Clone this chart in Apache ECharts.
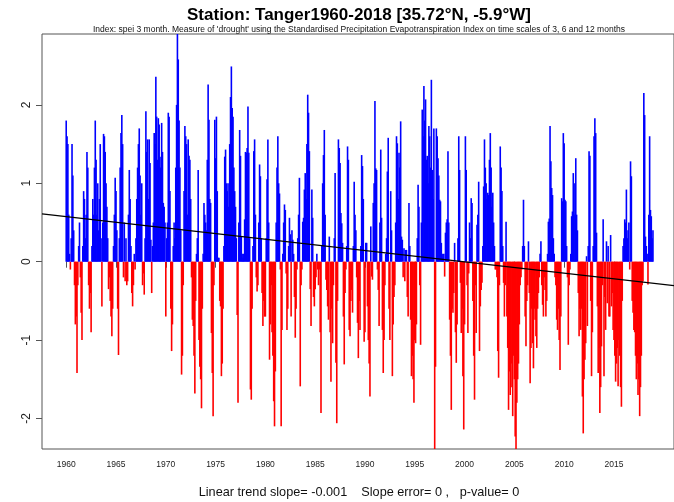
<!DOCTYPE html>
<html>
<head>
<meta charset="utf-8">
<script src="https://cdn.jsdelivr.net/npm/echarts@6/dist/echarts.min.js"></script>
<style>
  html, body { margin: 0; padding: 0; background: #fff; }
  #graph { width: 674px; height: 502px; }
</style>
</head>
<body>
<div id="graph"></div>
<script>
// monthly SPEI-3 values, Tanger (one row = one year, Jan..Dec)
const spei1960s = [
  1.8, 1.6, 1.5, 0.6, 0.1, -0.1, 0.3, 1.5, 1.1, 0.4, -0.3, -0.8,
  -0.7, -1.42, -0.3, 0.2, 0.5, -0.2, -0.65, -1.0, 0.2, 0.9, 0.8, 0.3,
  0.6, 1.4, 1.2, -0.3, -0.6, -0.4, -0.9, 0.2, 0.8, 0.6, 1.2, 1.8,
  1.3, 0.6, 1.0, 0.4, 0.8, 1.5, 0.3, -0.57, 0.5, 1.63, 1.6, 1.4,
  1.0, 0.7, 0.3, -0.35, -0.2, -0.5, -0.7, -0.95, -0.6, 0.2, 0.6, 1.07,
  0.9, 0.4, -0.6, -1.19, 0.3, 1.2, 1.64, 1.87, 1.5, -0.2, 0.5, -0.25,
  0.3, -0.3, -0.25, 0.6, 1.17, 0.8, 0.2, -0.4, -0.57, -0.3, 0.1, -0.1,
  0.3, 0.8, 1.2, 1.5, 1.7, 1.1, 0.6, 1.0, -0.3, -0.15, -0.42, 0.3,
  1.92, 1.4, 1.56, 0.8, 1.56, 1.26, 0.28, -0.4, 0.2, 0.5, 1.64, 1.5,
  2.36, 1.85, 1.3, 1.83, 1.75, 1.34, 1.2, 1.77, 1.4, 0.75, 0.7, 0.5
];
const spei1970s = [
  -0.7, 0.3, 0.5, 1.9, 1.85, 0.9, -0.6, -1.14, -0.8, 0.2, 0.5, 0.3,
  1.2, 2.0, 2.95, 2.58, 1.8, 1.2, 0.4, -1.44, -1.2, -0.3, 0.9, 1.73,
  1.6, 1.5, 0.6, 1.56, 1.35, 1.3, 0.8, -0.2, -0.74, -0.82, -1.2, -1.68,
  -0.5, 0.1, 0.3, 1.17, -1.0, -1.34, -1.5, -1.87, -0.6, 0.1, 0.75, 0.6,
  0.5, 0.4, 1.3, 2.26, 1.81, 0.8, 0.75, -0.91, -1.42, -1.97, -0.3, 1.81,
  1.32, 1.85, 0.9, 0.05, 0.05, -0.5, -0.57, -1.46, -1.3, -0.6, 0.2, 1.34,
  1.43, 1.0, 0.9, 1.0, 0.7, 1.5, 2.1, 2.49, 1.96, 1.85, 1.2, 0.9,
  0.7, 0.3, -0.68, -1.8, 0.5, 1.68, 1.35, 0.32, 0.1, 0.05, 0.1, 0.54,
  1.4, 1.39, 1.45, 1.98, 1.39, 0.3, -1.63, -1.76, -0.6, 0.2, 1.41, 1.56,
  0.6, -0.2, -0.38, -0.3, 0.5, 1.24, 1.09, 0.3, -0.4, -0.82, -0.5, -0.7
];
const spei1980s = [
  -0.7, 0.3, 1.05, 1.56, 0.5, -1.25, -0.8, -0.3, -0.9, -1.2, -1.78, -2.1,
  -1.4, 0.5, 1.2, 1.6, 1.0, 0.87, -0.1, -2.1, -0.87, 0.1, 0.5, 0.73,
  0.66, -0.15, -0.87, -0.6, 0.2, 0.56, 0.35, -0.7, 0.4, 0.28, 0.1, -0.45,
  -0.97, -0.6, -0.1, 0.3, 0.6, 1.07, -1.59, -0.3, -0.1, 0.51, 0.56, 0.92,
  1.13, 0.8, 1.5, 2.13, 1.9, 1.41, -0.35, -0.82, 0.92, 0.56, -0.45, -0.57,
  -0.35, -0.2, 0.1, -0.1, -0.3, -0.1, -0.9, -1.93, 0.2, 1.0, 1.36, 1.68,
  0.6, -0.23, -0.36, -0.57, -0.74, 0.32, -0.9, -1.53, -0.6, -1.04, -0.3, 0.3,
  1.13, -1.29, -2.06, -0.5, 1.56, 1.45, 1.26, 0.62, 0.49, 0.24, -0.7, -1.31,
  -0.4, -0.1, 0.2, 1.47, 1.3, -0.87, -0.95, -0.5, -0.36, -0.65, 0.2, 1.02,
  0.6, 0.4, -0.2, -0.78, -1.23, -0.5, -0.87, 0.2, 1.36, 1.22, 0.8, -1.02
];
const spei1990s = [
  -0.9, 0.24, 0.24, -0.57, -1.0, -1.3, -1.72, 0.45, -0.19, -0.23, 0.75, 1.0,
  2.05, 1.19, 1.17, -0.1, -0.36, -0.82, 0.5, 1.43, 0.56, -0.87, -1.42, -1.0,
  -0.3, 0.1, 0.3, 1.15, 1.58, -0.6, -1.0, 0.9, 0.4, -1.46, -0.8, -0.45,
  -0.3, 0.5, 1.6, 1.51, 0.8, 1.39, 1.2, 1.79, 0.32, 0.28, -0.2, 0.17,
  -0.25, 0.15, 0.15, -0.45, -0.7, 0.75, 0.2, -0.74, -1.46, -1.2, -1.5, -1.8,
  -1.0, -1.04, -0.8, 0.3, 0.98, 0.7, -0.3, -1.06, 0.5, 1.94, 1.6, 2.24,
  1.8, 2.07, 1.3, 1.35, 1.0, 1.73, 1.6, 1.2, 2.32, 1.17, 0.8, 1.7,
  -2.5, -1.34, 1.7, 1.6, 1.32, 1.1, 0.79, 0.77, 0.24, 0.1, 0.05, 0.1,
  -0.19, 0.37, 0.5, 0.54, 1.41, 0.5, -0.74, -1.2, -1.89, -0.6, -0.65, -0.4,
  0.24, -0.9, -1.29, -0.8, 0.3, 1.6, 1.17, -0.27, -0.91, -0.6, -1.46, -2.14
];
const spei2000s = [
  -0.8, 1.6, 1.17, -0.3, -0.91, -0.15, 0.5, 0.3, 0.81, 0.75, -0.5, -1.2,
  -1.76, -0.3, -0.91, 0.47, 0.6, 1.02, -1.14, -0.57, -0.36, -0.27, 0.2, 0.96,
  1.56, 1.2, 1.0, 0.8, 0.88, 0.85, 1.3, 1.64, 1.2, 0.7, 0.88, 0.5,
  0.2, -0.1, -0.1, -0.2, -1.14, -1.48, -0.3, 1.47, 1.2, 0.9, 0.2, -0.27,
  -0.7, -0.3, 0.51, -0.7, -1.1, -1.89, -1.4, -1.7, -1.6, -1.3, -1.97, -1.2,
  -1.5, -2.23, -2.5, -1.8, -1.5, -1.3, -0.8, -0.3, -0.2, -0.1, 0.2, 0.79,
  0.2, -0.7, -1.08, -0.5, -0.3, 0.26, -0.4, -1.55, -1.1, -0.6, -1.04, -1.36,
  -0.6, -0.74, -0.95, -1.1, -0.6, -0.4, -0.2, 0.1, 0.26, -0.3, -0.55, -0.7,
  -0.2, -0.36, -0.7, -0.5, 0.1, 0.51, 0.55, 1.73, 1.28, 0.94, 0.85, 0.3,
  0.1, -0.2, -0.3, -0.74, -0.87, -0.6, -1.0, -1.38, -0.7, 0.81, 0.77, 1.64
];
const spei2010s = [
  1.51, 0.79, 0.77, 0.2, -0.2, -1.06, -0.3, -0.1, 0.1, 0.58, 0.64, 1.13,
  1.0, 0.6, 1.32, 0.6, 0.4, -0.4, -0.95, -0.6, -0.87, -0.6, -1.72, -2.19,
  -1.5, -1.25, -1.04, 0.07, -0.82, 0.2, 1.41, 1.35, -0.5, -1.46, -0.9, 0.2,
  1.6, 1.83, 1.64, 0.37, -0.57, -1.42, -1.1, -1.93, -1.6, -1.08, -0.3, 0.54,
  -1.46, -0.45, -0.87, 0.26, -0.53, 0.2, -0.7, -0.7, 0.34, -0.57, -0.4, -0.87,
  -1.0, -1.2, -1.53, -1.3, -1.1, -1.59, -1.0, -1.2, -1.6, -1.85, -0.5, 0.2,
  0.3, 0.54, 0.5, 0.92, 0.3, 0.4, 0.5, -0.1, 1.28, 1.09, -0.5, -0.65,
  -0.87, -0.9, -1.2, -1.5, -1.3, -1.7, -1.5, -1.97, -1.6, -1.2, -0.3, -0.25,
  2.15, 1.87, 0.32, 0.2, 0.1, -0.29, 0.6, 1.6, 0.66, 0.58, 0.3, 0.4
];
const xTicks = [1960, 1965, 1970, 1975, 1980, 1985, 1990, 1995, 2000, 2005, 2010, 2015];
const yTicks = [-2, -1, 0, 1, 2];
// linear trend (value at 1960, change per year)
const trendAt1960 = 0.575;
const trendPerYear = -0.01442;

const firstYear = 1960;
const xMin = 1957.568, xMax = 2021.03;
const yMin = -2.389, yMax = 2.904;

const allValues = [].concat(spei1960s, spei1970s, spei1980s, spei1990s, spei2000s, spei2010s);
const barData = allValues.map((v, i) => [firstYear + i / 12, v]);
const trendData = [xMin, xMax].map(x => [x, trendAt1960 + trendPerYear * (x - firstYear)]);

const font = '"Liberation Sans", Arial, Helvetica, sans-serif';
const myChart = echarts.init(document.getElementById('graph'), null, { renderer: 'canvas' });

myChart.setOption({
  animation: false,
  backgroundColor: '#fff',
  grid: {
    left: 42, right: -2, top: 34, bottom: 53,
    show: true, borderColor: '#555', borderWidth: 1, backgroundColor: 'transparent'
  },
  graphic: [
    { type: 'text', x: 359, y: 15.5, style: { text: 'Station: Tanger1960-2018 [35.72°N, -5.9°W]', font: 'bold 17px ' + font, fill: '#000', align: 'center', verticalAlign: 'middle', textAlign: 'center', textVerticalAlign: 'middle' } },
    { type: 'text', x: 359, y: 29.5, style: { text: "Index: spei 3 month. Measure of 'drought' using the Standardised Precipitation Evapotranspiration Index on time scales of 3, 6 and 12 months", font: '8.5px ' + font, fill: '#111', align: 'center', verticalAlign: 'middle', textAlign: 'center', textVerticalAlign: 'middle' } },
    { type: 'text', x: 359, y: 492, style: { text: 'Linear trend slope= -0.001    Slope error= 0 ,   p-value= 0', font: '12.7px ' + font, fill: '#111', align: 'center', verticalAlign: 'middle', textAlign: 'center', textVerticalAlign: 'middle' } }
  ],
  xAxis: {
    type: 'value', min: xMin, max: xMax,
    axisLine: { show: false },
    splitLine: { show: false },
    axisTick: { show: true, length: 6, customValues: xTicks, lineStyle: { color: '#555' } },
    axisLabel: { customValues: xTicks, formatter: v => String(v), margin: 11, fontSize: 8.5, fontFamily: font, color: '#222' }
  },
  yAxis: {
    type: 'value', min: yMin, max: yMax,
    axisLine: { show: false },
    splitLine: { show: false },
    axisTick: { show: true, length: 6, customValues: yTicks, lineStyle: { color: '#555' } },
    axisLabel: { customValues: yTicks, rotate: 90, margin: 9, fontSize: 12, fontFamily: font, color: '#222' }
  },
  series: [
    {
      type: 'bar',
      data: barData,
      barWidth: 1.6,
      clip: true,
      itemStyle: { color: p => (p.value[1] >= 0 ? '#0000ff' : '#ff0000') }
    },
    {
      type: 'line',
      data: trendData,
      symbol: 'none',
      clip: true,
      lineStyle: { color: '#000', width: 1.3 },
      z: 5
    }
  ]
});
</script>
</body>
</html>
